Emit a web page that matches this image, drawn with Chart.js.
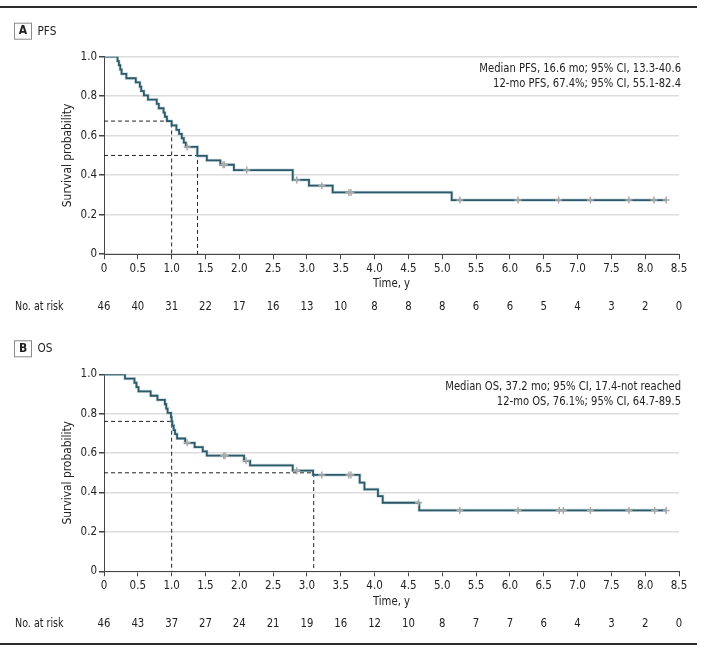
<!DOCTYPE html>
<html>
<head>
<meta charset="utf-8">
<script src="https://cdn.jsdelivr.net/npm/chart.js@4.4.1/dist/chart.umd.min.js"></script>
<style>
  html, body { margin: 0; padding: 0; background: #fff; }
  #wrap { position: relative; width: 704px; height: 652px; }
  canvas { position: absolute; left: 0; }
  #pfsChart { top: 0; }
  #osChart { top: 326px; }
</style>
</head>
<body>
<div id="wrap">
  <canvas id="pfsChart" width="704" height="326"></canvas>
  <canvas id="osChart" width="704" height="326"></canvas>
</div>
<script>
const FONT = "'Liberation Sans Narrow', 'DejaVu Sans Condensed', sans-serif";

// x axis ticks (years)
const timeTicks = [0, 0.5, 1, 1.5, 2, 2.5, 3, 3.5, 4, 4.5, 5, 5.5, 6, 6.5, 7, 7.5, 8, 8.5];

// A: PFS step curve (time of drop, survival after drop)
const pfsTimes = [0, 0.20, 0.22, 0.24, 0.26, 0.33, 0.47, 0.53, 0.55, 0.59, 0.65, 0.78, 0.81, 0.88, 0.90, 0.93,
  1.00, 1.07, 1.11, 1.15, 1.18, 1.21, 1.38, 1.52, 1.72, 1.92, 2.79, 3.03, 3.38, 5.14, 8.31];
const pfsSurv = [1, 0.978, 0.957, 0.935, 0.913, 0.891, 0.870, 0.848, 0.826, 0.804, 0.783, 0.761, 0.739, 0.717, 0.696, 0.674,
  0.652, 0.630, 0.609, 0.587, 0.565, 0.543, 0.498, 0.475, 0.453, 0.426, 0.376, 0.347, 0.313, 0.274, 0.274];
const pfsCensored = [1.23, 1.76, 1.78, 2.11, 2.85, 3.22, 3.62, 3.65, 5.26, 6.12, 6.72, 7.19, 7.76, 8.13, 8.31];
const pfsAtRisk = [46, 40, 31, 22, 17, 16, 13, 10, 8, 8, 8, 6, 6, 5, 4, 3, 2, 0];
const pfsRefTimes = [1.0, 1.383];
const pfsRefSurv = [0.674, 0.5];
const pfsNotes = ['Median PFS, 16.6 mo; 95% CI, 13.3-40.6', '12-mo PFS, 67.4%; 95% CI, 55.1-82.4'];

// B: OS step curve
const osTimes = [0, 0.31, 0.45, 0.48, 0.51, 0.69, 0.79, 0.90, 0.92, 0.94, 0.99, 1.00, 1.01,
  1.03, 1.05, 1.08, 1.20, 1.34, 1.46, 1.52, 2.07, 2.16, 2.79, 3.09, 3.78, 3.85, 4.05, 4.12, 4.66, 8.31];
const osSurv = [1, 0.978, 0.957, 0.935, 0.913, 0.891, 0.870, 0.848, 0.826, 0.804, 0.783, 0.761, 0.739,
  0.717, 0.696, 0.674, 0.652, 0.630, 0.609, 0.587, 0.561, 0.538, 0.511, 0.489, 0.450, 0.416, 0.382, 0.348, 0.309, 0.309];
const osCensored = [1.23, 1.77, 1.79, 2.10, 2.85, 3.22, 3.62, 3.65, 4.65, 5.26, 6.12, 6.73, 6.79, 7.19, 7.76, 8.14, 8.31];
const osAtRisk = [46, 43, 37, 27, 24, 21, 19, 16, 12, 10, 8, 7, 7, 6, 4, 3, 2, 0];
const osRefTimes = [1.0, 3.1];
const osRefSurv = [0.761, 0.5];
const osNotes = ['Median OS, 37.2 mo; 95% CI, 17.4-not reached', '12-mo OS, 76.1%; 95% CI, 64.7-89.5'];

function levelAt(times, surv, t) {
  let s = surv[0];
  for (let i = 0; i < times.length; i++) {
    if (times[i] <= t) s = surv[i];
  }
  return s;
}

// condensed text: squeeze horizontally a bit
function txt(c, s, x, y, align, font, squeeze) {
  c.save();
  c.translate(x, y);
  c.scale(squeeze, 1);
  c.font = font;
  c.textAlign = align;
  c.fillText(s, 0, 0);
  c.restore();
}

// text, rules and number-at-risk row
const decor = {
  id: 'decor',
  afterDraw(chart, args, o) {
    const c = chart.ctx;
    const a = chart.chartArea;
    const xs = chart.scales.x;
    c.save();
    c.fillStyle = '#2b2b2b';
    c.fillRect(0, o.ruleY, 697, 2);

    // panel letter box
    c.strokeStyle = '#8a8a8a';
    c.lineWidth = 1;
    c.strokeRect(14.5, a.top - 34 + 0.5, 17, 16);
    c.fillStyle = '#222';
    c.textBaseline = 'middle';
    txt(c, o.letter, 23, a.top - 25.5, 'center', 'bold 12px ' + FONT, 1);
    txt(c, o.title, 37.5, a.top - 25.5, 'left', '13px ' + FONT, 0.9);

    // notes top right
    txt(c, o.notes[0], 681, a.top + 12, 'right', '12.5px ' + FONT, 0.89);
    txt(c, o.notes[1], 681, a.top + 27, 'right', '12.5px ' + FONT, 0.89);

    // axis titles
    txt(c, 'Time, y', (a.left + a.right) / 2, a.bottom + 30, 'center', '12.5px ' + FONT, 0.9);
    c.save();
    c.translate(68, (a.top + a.bottom) / 2);
    c.rotate(-Math.PI / 2);
    txt(c, 'Survival probability', 0, 0, 'center', '12.5px ' + FONT, 0.95);
    c.restore();

    // no. at risk
    txt(c, 'No. at risk', 15, a.bottom + 52.5, 'left', '12.5px ' + FONT, 0.85);
    o.atRisk.forEach((n, i) => {
      txt(c, String(n), xs.getPixelForValue(timeTicks[i]), a.bottom + 52.5, 'center', '12.5px ' + FONT, 0.9);
    });
    c.restore();
  }
};

function makePanel(id, p) {
  const curve = p.times.map((t, i) => ({ x: t, y: p.surv[i] }));
  const marks = p.censored.map(t => ({ x: t, y: levelAt(p.times, p.surv, t) }));
  const refs = p.refTimes.map((t, i) => ({
    data: [{ x: 0, y: p.refSurv[i] }, { x: t, y: p.refSurv[i] }, { x: t, y: 0 }],
    borderColor: '#222',
    borderWidth: 1,
    borderDash: [4, 3],
    pointRadius: 0,
    order: 3
  }));

  new Chart(document.getElementById(id).getContext('2d'), {
    type: 'line',
    data: {
      datasets: [
        {
          data: marks,
          showLine: false,
          pointStyle: 'cross',
          pointRadius: 3.5,
          borderColor: '#aaaaaa',
          borderWidth: 1.5,
          order: 0
        },
        {
          data: curve,
          stepped: true,
          borderColor: '#2d5a69',
          borderWidth: 1.8,
          pointRadius: 0,
          order: 1
        },
        {
          data: curve,
          stepped: true,
          borderColor: 'rgba(140,175,190,0.45)',
          borderWidth: 3.2,
          pointRadius: 0,
          order: 2
        },
        ...refs
      ]
    },
    options: {
      responsive: false,
      animation: false,
      layout: { padding: { top: p.top, right: 25, bottom: 0, left: 0 } },
      plugins: {
        legend: { display: false },
        tooltip: { enabled: false },
        decor: p.decor
      },
      scales: {
        x: {
          type: 'linear',
          min: 0,
          max: 8.5,
          afterBuildTicks(scale) { scale.ticks = timeTicks.map(v => ({ value: v })); },
          afterFit(scale) { scale.height = p.xHeight; },
          ticks: {
            padding: 3,
            color: '#222',
            font: { family: FONT, size: 11.5 },
            maxRotation: 0,
            autoSkip: false,
            callback: v => v === 0 ? '0' : v.toFixed(1)
          },
          grid: { drawOnChartArea: false, drawTicks: true, tickLength: 5, tickColor: '#444' },
          border: { color: '#444', width: 1 }
        },
        y: {
          min: 0,
          max: 1,
          afterFit(scale) { scale.width = 104; },
          ticks: {
            stepSize: 0.2,
            padding: 2,
            color: '#222',
            font: { family: FONT, size: 11.5 },
            callback: v => v === 0 ? '0' : v.toFixed(1)
          },
          grid: { color: '#dcdcdc', lineWidth: 1.5, drawTicks: true, tickLength: 5, tickColor: '#444' },
          border: { color: '#444', width: 1 }
        }
      }
    },
    plugins: [decor]
  });
}

makePanel('pfsChart', {
  times: pfsTimes, surv: pfsSurv, censored: pfsCensored,
  refTimes: pfsRefTimes, refSurv: pfsRefSurv,
  top: 56.7, xHeight: 71.8,
  decor: { letter: 'A', title: 'PFS', notes: pfsNotes, atRisk: pfsAtRisk, ruleY: 6 }
});

makePanel('osChart', {
  times: osTimes, surv: osSurv, censored: osCensored,
  refTimes: osRefTimes, refSurv: osRefSurv,
  top: 48.3, xHeight: 80.7,
  decor: { letter: 'B', title: 'OS', notes: osNotes, atRisk: osAtRisk, ruleY: 317 }
});
</script>
</body>
</html>
